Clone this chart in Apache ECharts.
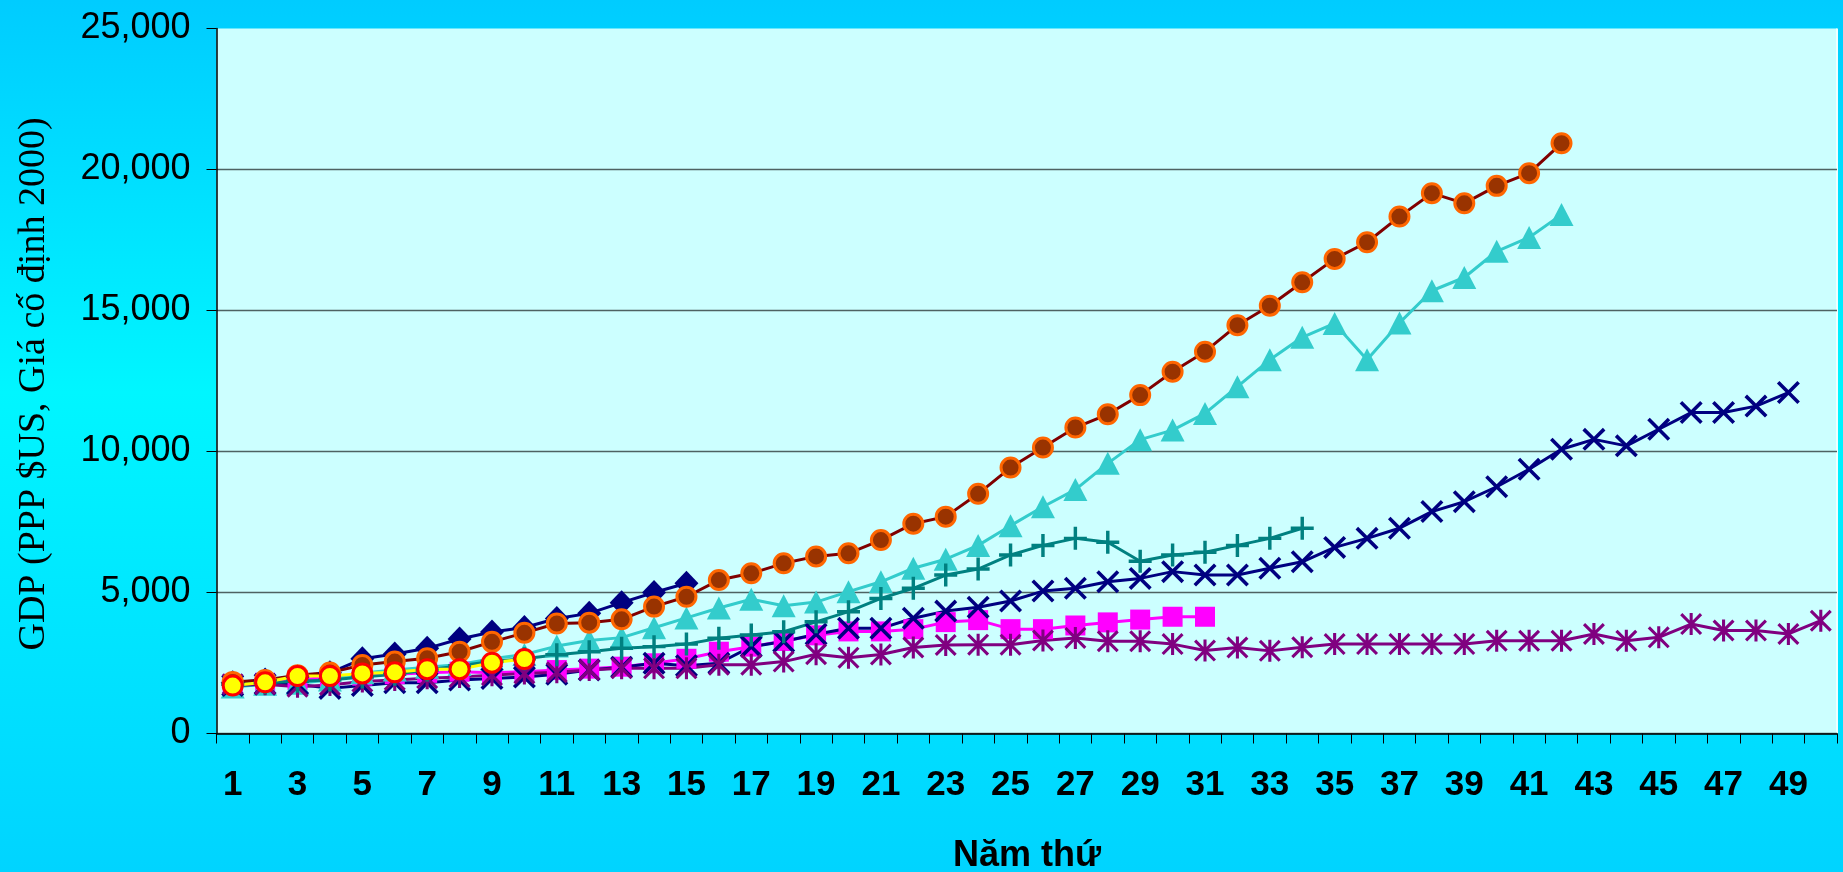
<!DOCTYPE html>
<html>
<head>
<meta charset="utf-8">
<script src="https://cdn.jsdelivr.net/npm/echarts@6.0.0/dist/echarts.min.js"></script>
<style>
  html, body { margin: 0; padding: 0; }
  #chart { width: 1843px; height: 872px; }
</style>
</head>
<body>
<div id="chart"></div>
<script>
// Năm thứ (year index) along the x axis
const years = [1, 2, 3, 4, 5, 6, 7, 8, 9, 10, 11, 12, 13, 14, 15, 16, 17, 18, 19, 20,
  21, 22, 23, 24, 25, 26, 27, 28, 29, 30, 31, 32, 33, 34, 35, 36, 37, 38, 39, 40,
  41, 42, 43, 44, 45, 46, 47, 48, 49, 50];

// GDP per capita (PPP $US, constant 2000 prices), one array per country path
const navyDiamond = [1800, 1900, 2000, 2150, 2650, 2820, 3020, 3350, 3600, 3760,
  4080, 4260, 4640, 5000, 5330];

const magentaSquare = [1720, 1800, 1900, 2000, 2050, 2100, 2150, 2190, 2150, 2190,
  2250, 2300, 2370, 2490, 2650, 2900, 3080, 3280, 3480, 3620,
  3620, 3700, 3950, 4020, 3700, 3700, 3830, 3940, 4040, 4140, 4140];

const cyanTriangle = [1650, 1750, 1780, 1900, 2150, 2250, 2350, 2450, 2650, 2800,
  3100, 3300, 3400, 3750, 4100, 4450, 4760, 4530, 4660, 5030,
  5380, 5860, 6180, 6670, 7370, 8040, 8650, 9580, 10420, 10760,
  11350, 12300, 13250, 14050, 14540, 13250, 14560, 15700, 16170, 17100,
  17590, 18400];

const navyCross = [1700, 1750, 1750, 1600, 1700, 1800, 1800, 1900, 1950, 2000,
  2100, 2250, 2350, 2490, 2400, 2490, 3080, 3260, 3520, 3730,
  3730, 4085, 4340, 4480, 4700, 5050, 5150, 5380, 5500, 5740,
  5620, 5620, 5860, 6090, 6600, 6920, 7280, 7870, 8220, 8750,
  9370, 10080, 10430, 10200, 10790, 11380, 11380, 11610, 12090];

const purpleStar = [1750, 1750, 1660, 1720, 1840, 1900, 1960, 2000, 2070, 2130,
  2170, 2250, 2310, 2310, 2310, 2440, 2440, 2550, 2810, 2690,
  2800, 3050, 3140, 3150, 3150, 3300, 3390, 3270, 3270, 3170,
  2940, 3050, 2930, 3060, 3170, 3170, 3170, 3170, 3170, 3290,
  3290, 3290, 3530, 3290, 3410, 3880, 3650, 3650, 3530, 4000];

const tealPlus = [1750, 1800, 1850, 1900, 2000, 2100, 2250, 2400, 2550, 2650,
  2790, 2900, 3020, 3080, 3170, 3380, 3490, 3610, 3960, 4320,
  4790, 5150, 5620, 5830, 6330, 6670, 6920, 6780, 6110, 6330,
  6430, 6670, 6920, 7280];

const brownCircle = [1830, 1900, 2070, 2160, 2430, 2550, 2670, 2900, 3250, 3570,
  3900, 3930, 4050, 4500, 4850, 5440, 5680, 6035, 6280, 6390,
  6860, 7440, 7690, 8500, 9430, 10140, 10850, 11320, 12000, 12830,
  13540, 14480, 15170, 16000, 16830, 17420, 18330, 19160, 18800, 19420,
  19870, 20930];

const yellowCircle = [1700, 1815, 2040, 2040, 2130, 2170, 2280, 2280, 2510, 2640];

// Filled outlines for the stroke-like markers (100 x 100 box)
const SYM_X = 'path://M0,11 L11,0 L50,39 L89,0 L100,11 L61,50 L100,89 L89,100 L50,61 L11,100 L0,89 L39,50 Z';
const SYM_STAR = 'path://M0,10 L10,0 L50,40 L90,0 L100,10 L60,50 L100,90 L90,100 L50,60 L10,100 L0,90 L40,50 Z M43,0 L57,0 L57,100 L43,100 Z';
const SYM_PLUS = 'path://M42.5,0 L57.5,0 L57.5,42.5 L100,42.5 L100,57.5 L57.5,57.5 L57.5,100 L42.5,100 L42.5,57.5 L0,57.5 L0,42.5 L42.5,42.5 Z';

function lineSeries(data, lineColor, symbol, size, itemStyle) {
  return {
    type: 'line',
    data: data,
    symbol: symbol,
    symbolSize: size,
    showAllSymbol: true,
    smooth: false,
    lineStyle: { color: lineColor, width: 3 },
    itemStyle: itemStyle,
    emphasis: { disabled: true }
  };
}

const chart = echarts.init(document.getElementById('chart'), null, { renderer: 'canvas' });

chart.setOption({
  animation: false,
  backgroundColor: {
    type: 'linear', x: 0, y: 0, x2: 0, y2: 1,
    colorStops: [
      { offset: 0, color: '#00CCFF' },
      { offset: 0.45, color: '#00F6FF' },
      { offset: 1, color: '#00D4FF' }
    ]
  },
  grid: {
    left: 216.5, right: 6, top: 28.5, bottom: 138.5,
    show: true, backgroundColor: '#CCFFFF', borderWidth: 0
  },
  xAxis: {
    type: 'category',
    data: years,
    boundaryGap: true,
    axisLine: { lineStyle: { color: '#000000', width: 1.5 } },
    axisTick: { show: true, interval: 0, length: 10, lineStyle: { color: '#000000', width: 1 } },
    axisLabel: {
      interval: 1,
      margin: 34,
      color: '#000000',
      fontFamily: '"Liberation Sans", Arial, sans-serif',
      fontWeight: 'bold',
      fontSize: 35
    },
    splitLine: { show: false }
  },
  yAxis: {
    type: 'value',
    min: 0,
    max: 25000,
    interval: 5000,
    axisLine: { show: true, lineStyle: { color: '#000000', width: 1.5 } },
    axisTick: { show: true, length: 10, lineStyle: { color: '#000000', width: 1 } },
    axisLabel: {
      margin: 26,
      color: '#000000',
      fontFamily: '"Liberation Sans", Arial, sans-serif',
      fontSize: 36,
      formatter: v => v.toLocaleString('en-US')
    },
    splitLine: { show: true, showMaxLine: false, lineStyle: { color: '#4E6262', width: 1.4 } }
  },
  graphic: [
    {
      type: 'text',
      x: 34, y: 384,
      rotation: Math.PI / 2,
      style: {
        text: 'GDP (PPP $US, Giá cố định 2000)',
        fill: '#000000',
        fontFamily: '"Liberation Serif", "Times New Roman", serif',
        fontSize: 38,
        align: 'center',
        verticalAlign: 'middle'
      }
    },
    {
      type: 'text',
      x: 1027, y: 856,
      style: {
        text: 'Năm thứ',
        fill: '#000000',
        fontFamily: '"Liberation Sans", Arial, sans-serif',
        fontWeight: 'bold',
        fontSize: 36,
        align: 'center',
        verticalAlign: 'middle'
      }
    },
    {
      // light right edge of the plotting area
      type: 'line',
      shape: { x1: 1837, y1: 28.5, x2: 1837, y2: 733.5 },
      style: { stroke: '#F0FFFF', lineWidth: 2 },
      z: 0
    }
  ],
  series: [
    lineSeries(navyDiamond, '#000080', 'diamond', [24, 25], { color: '#000080', borderWidth: 0 }),
    lineSeries(magentaSquare, '#FF00FF', 'rect', 20, { color: '#FF00FF', borderWidth: 0 }),
    lineSeries(cyanTriangle, '#33CCCC', 'triangle', [24, 23], { color: '#33CCCC', borderWidth: 0 }),
    lineSeries(navyCross, '#000080', SYM_X, 23, { color: '#000080', borderWidth: 0 }),
    lineSeries(purpleStar, '#800080', SYM_STAR, 22, { color: '#800080', borderWidth: 0 }),
    lineSeries(tealPlus, '#008080', SYM_PLUS, 23, { color: '#008080', borderWidth: 0 }),
    lineSeries(brownCircle, '#800000', 'circle', 19, { color: '#993300', borderColor: '#FF6600', borderWidth: 3 }),
    lineSeries(yellowCircle, '#FFFF00', 'circle', 19, { color: '#FFFF00', borderColor: '#FF0000', borderWidth: 3 })
  ]
});
</script>
</body>
</html>
